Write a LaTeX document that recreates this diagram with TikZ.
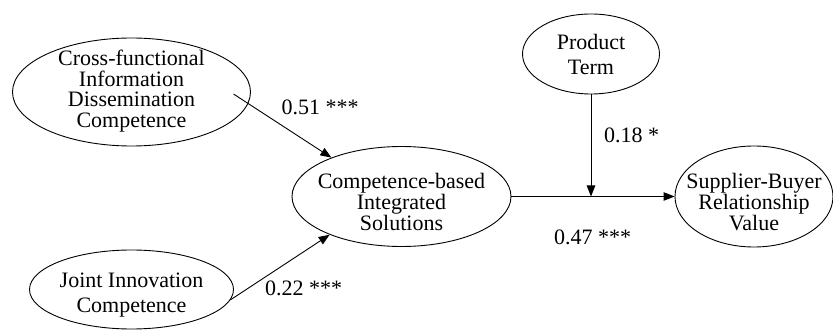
\documentclass[tikz,border=0pt]{standalone}
\usepackage{fontspec}
\setmainfont{Liberation Serif}
\usetikzlibrary{shapes.geometric,arrows.meta,calc}
\begin{document}
\begin{tikzpicture}[x=1pt,y=-1pt,
  construct/.style={draw, ellipse, line width=0.9pt, inner sep=0pt},
  ctext/.style={inner sep=0pt, align=center, font=\fontsize{22}{21}\selectfont},
  path/.style={line width=0.9pt, -{Triangle[length=11pt,width=8.5pt]}},
  coef/.style={anchor=base, inner sep=0pt, font=\fontsize{22}{22}\selectfont}]
\useasboundingbox (0,0) rectangle (833,331);

% latent constructs (outline, then the wording set slightly low, as printed)
\node[construct, minimum width=238pt, minimum height=108pt] (cfi) at (131.5,92) {};
\node[ctext, font=\fontsize{22}{20.5}\selectfont, yshift=1pt] (cfi-t) at (cfi)
  {Cross-functional\\Information\\Dissemination\\Competence};

\node[construct, minimum width=204pt, minimum height=79pt] (jic) at (131.5,289.5) {};
\node[ctext, font=\fontsize{22}{25}\selectfont, yshift=-6pt] (jic-t) at (jic)
  {Joint Innovation\\Competence};

\node[construct, minimum width=219pt, minimum height=100pt] (cbis) at (401.5,196.5) {};
\node[ctext, yshift=-5pt] (cbis-t) at (cbis)
  {Competence-based\\Integrated\\Solutions};

\node[construct, minimum width=137pt, minimum height=80pt] (pt) at (591,54) {};
\node[ctext, font=\fontsize{22}{25}\selectfont, yshift=0pt] (pt-t) at (pt)
  {Product\\Term};

\node[construct, minimum width=158pt, minimum height=101pt] (sbrv) at (754,196.5) {};
\node[ctext, yshift=-6pt] (sbrv-t) at (sbrv)
  {Supplier-Buyer\\Relationship\\Value};

% structural paths
\coordinate (cfiout) at (233.5,94);
\coordinate (join) at (pt.south |- cbis.east);
\draw[path] (cfiout) -- (cbis.151);
\draw[path] (jic.-6) -- (cbis.208);
\draw[path] (cbis.east) -- (cbis.east -| sbrv.west);
\draw[path] (pt.south) -- (join);

% path coefficients
\node[coef] (c1) at (320,115) {0.51 ***};
\node[coef] (c2) at (631.5,143) {0.18 *};
\node[coef] (c3) at (592.5,245) {0.47 ***};
\node[coef] (c4) at (303.5,295.5) {0.22 ***};
\end{tikzpicture}
\end{document}
